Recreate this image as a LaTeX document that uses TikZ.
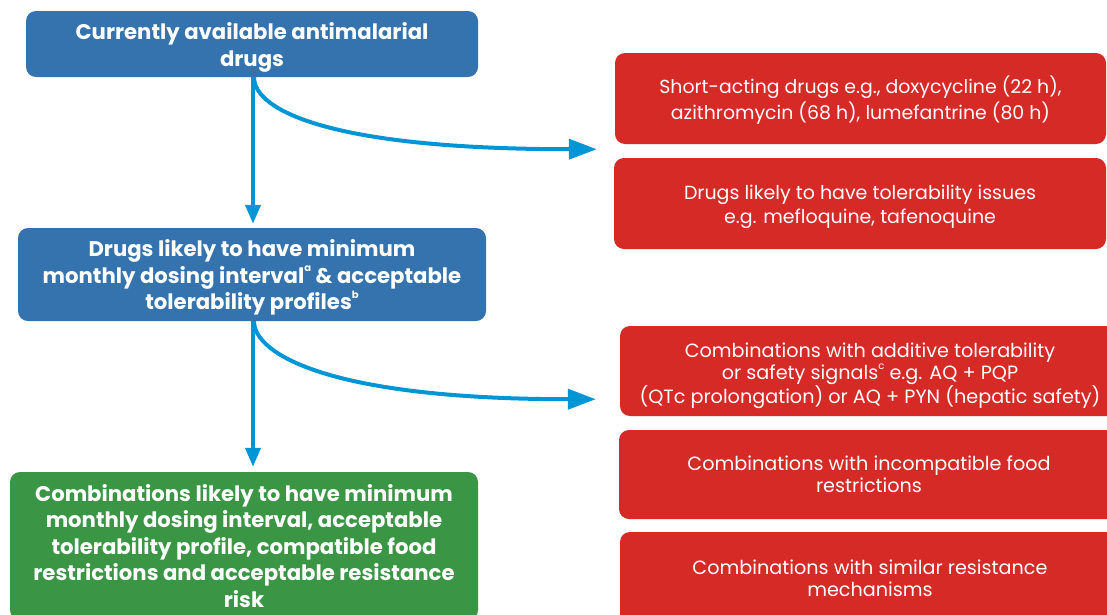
\documentclass[tikz,border=0pt]{standalone}
\usepackage{fontspec}
\setmainfont{Poppins}
\usetikzlibrary{arrows.meta}
\definecolor{boxblue}{HTML}{3473AE}
\definecolor{arrblue}{HTML}{0096D6}
\definecolor{boxred}{HTML}{D62A27}
\definecolor{boxgreen}{HTML}{3A9645}
\newcommand{\supr}[1]{\raisebox{0.55em}{\fontsize{10}{10}\selectfont #1}}
\newcommand{\lift}[1]{\rule{0pt}{#1}}
\begin{document}
\begin{tikzpicture}[x=1pt,y=-1pt,
  bluebox/.style={fill=boxblue,rounded corners=10pt,text=white,align=center,inner sep=0pt,
    font=\fontsize{21.2}{26.5}\selectfont\bfseries},
  greenbox/.style={fill=boxgreen,rounded corners=10pt,text=white,align=center,inner sep=0pt,
    font=\fontsize{21.2}{26.5}\selectfont\bfseries},
  redbox/.style={fill=boxred,rounded corners=10pt,text=white,align=center,inner sep=0pt,
    font=\fontsize{19.2}{22}\selectfont},
  downarrow/.style={draw=arrblue,line width=4pt,-{Triangle[length=19pt,width=15pt]}},
  sidearrow/.style={draw=arrblue,line width=4pt,-{Triangle[length=28pt,width=20pt]}}]
\clip (0,0) rectangle (1107,614);
\fill[white] (0,0) rectangle (1107,614);
% left column
\node[bluebox,minimum width=452pt,minimum height=66pt] (b1) at (252,44)
  {\lift{23.5pt}Currently available antimalarial\\drugs};
\node[bluebox,minimum width=468pt,minimum height=93pt] (b2) at (252,274.5)
  {\lift{23.5pt}Drugs likely to have minimum\\monthly dosing interval\supr{a} \& acceptable\\tolerability profiles\supr{b}};
\node[greenbox,minimum width=468pt,minimum height=148pt] (g) at (244,546)
  {Combinations likely to have minimum\\monthly dosing interval, acceptable\\tolerability profile, compatible food\\restrictions and acceptable resistance\\risk};
% right column
\node[redbox,minimum width=491pt,minimum height=91pt,font=\fontsize{18.9}{26}\selectfont] (r1) at (860.5,98.5)
  {\lift{20pt}Short-acting drugs e.g., doxycycline (22 h),\\azithromycin (68 h), lumefantrine (80 h)};
\node[redbox,minimum width=492pt,minimum height=91pt,font=\fontsize{19}{24}\selectfont] (r2) at (860,203.5)
  {\lift{22pt}Drugs likely to have tolerability issues\\e.g. mefloquine, tafenoquine};
\node[redbox,minimum width=500pt,minimum height=90pt] (r3) at (870,371)
  {\lift{25pt}Combinations with additive tolerability\\or safety signals\supr{c} e.g. AQ + PQP\\(QTc prolongation) or AQ + PYN (hepatic safety)};
\node[redbox,minimum width=500pt,minimum height=89pt] (r4) at (869,474.5)
  {Combinations with incompatible food\\restrictions};
\node[redbox,minimum width=500pt,minimum height=92pt] (r5) at (870,578)
  {Combinations with similar resistance\\mechanisms};
% arrow targets
\coordinate (t1) at ([xshift=-18pt,yshift=-5pt]r1.south west);
\coordinate (t2) at ([xshift=-24pt,yshift=17pt]r3.south west);
% connectors
\draw[downarrow] ([xshift=1pt]b1.south) -- ([xshift=1pt,yshift=4pt]b2.north);
\draw[sidearrow] ([xshift=2pt]b1.south) .. controls +(0,33) and +(-267,0) .. (t1);
\draw[downarrow] ([xshift=1pt]b2.south) -- ([xshift=9pt,yshift=5pt]g.north);
\draw[sidearrow] ([xshift=2pt]b2.south) .. controls +(0,33) and +(-266,0) .. (t2);
\end{tikzpicture}
\end{document}
